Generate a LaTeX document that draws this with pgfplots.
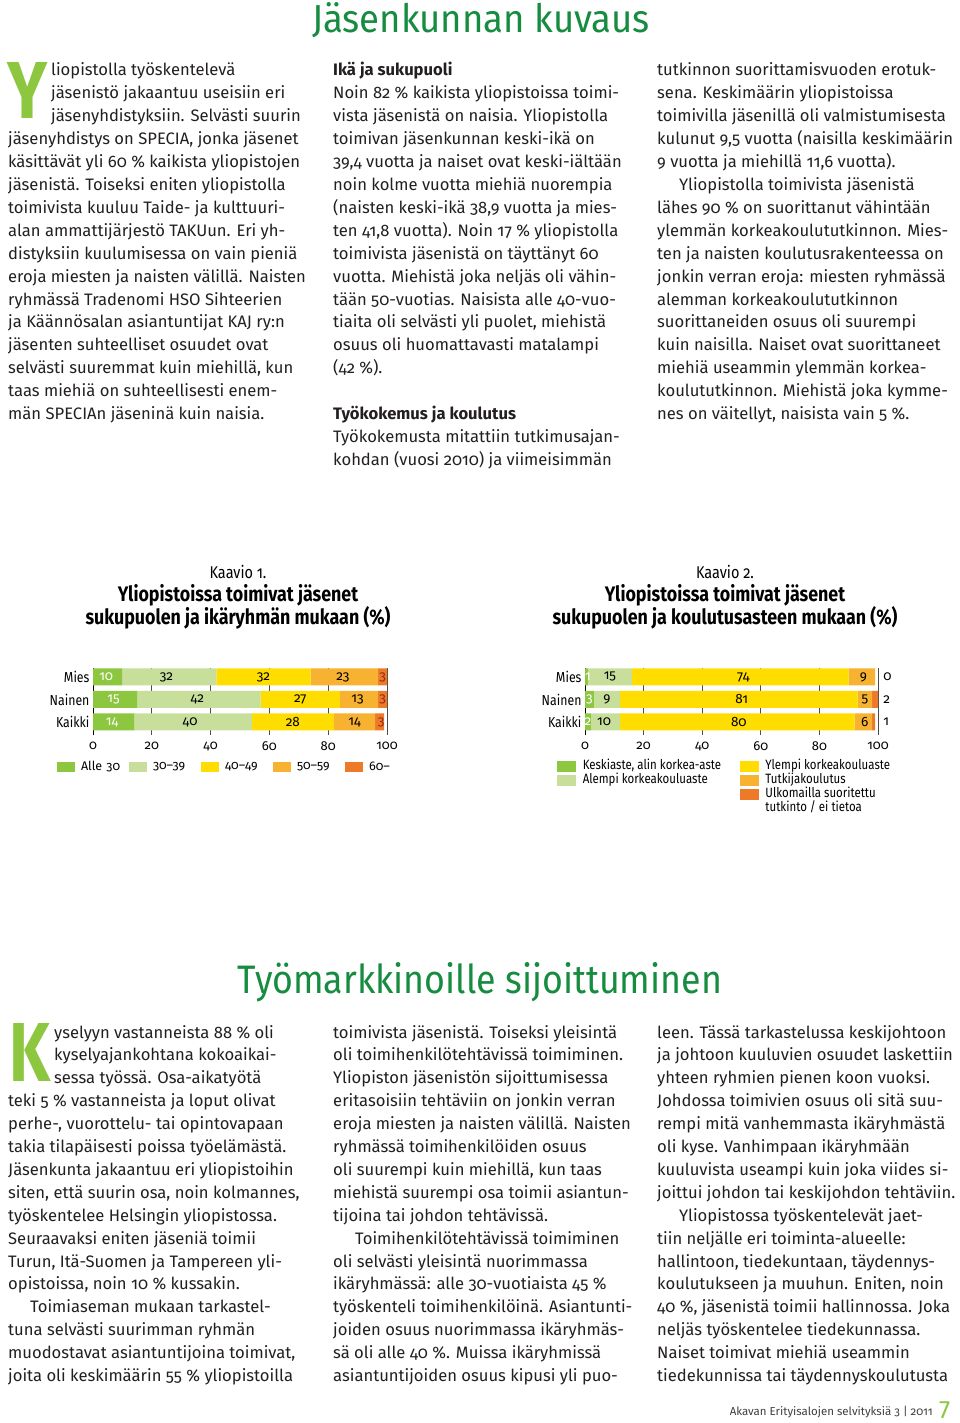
\documentclass[border=0pt]{standalone}
\usepackage{fontspec}
\usepackage{pgfplots}
\pgfplotsset{compat=1.18}
\setmainfont{Fira Sans}[Numbers=OldStyle]
\newfontfamily\cond{Fira Sans}[FakeStretch=0.85,Numbers=OldStyle]
\definecolor{cA}{RGB}{141,198,63}
\definecolor{cB}{RGB}{200,222,155}
\definecolor{cC}{RGB}{255,221,0}
\definecolor{cD}{RGB}{248,178,50}
\definecolor{cE}{RGB}{236,122,40}
\definecolor{hgreen}{RGB}{22,140,64}
\definecolor{lime}{RGB}{141,198,63}
\definecolor{dred}{RGB}{150,40,20}
\definecolor{txt}{RGB}{35,31,32}
\newcommand\bodyf{\fontsize{16.6}{22.9}\selectfont\color{txt}}
\newcommand\txtlines[3]{\foreach \l [count=\i from 0] in {#3} {\node[anchor=base west,inner sep=0pt,font=\bodyf] at (#1,{-(#2+\i*22.9)}) {\l};}}
\pgfplotsset{sq/.style={legend image code/.code={\fill[#1] (0pt,-5pt) rectangle (18pt,5pt);}}}
\begin{document}
\begin{tikzpicture}[x=1pt,y=1pt]
\fill[white] (0,0) rectangle (960,-1423);
\useasboundingbox (0,0) rectangle (960,-1423);
% headings
\node[anchor=base,inner sep=0pt] at (481,-33) {\resizebox{338pt}{30pt}{\textcolor{hgreen}{Jäsenkunnan kuvaus}}};
\node[anchor=base,inner sep=0pt] at (480,-993) {\resizebox{484pt}{31pt}{\textcolor{hgreen}{Työmarkkinoille sijoittuminen}}};
% drop caps
\node[anchor=south west,inner sep=0pt] at (7,-119) {\resizebox{40pt}{56pt}{\textcolor{lime}{\bfseries Y}}};
\node[anchor=south west,inner sep=0pt] at (9,-1082) {\resizebox{41pt}{58pt}{\textcolor{lime}{\bfseries K}}};
% upper columns
\txtlines{51}{76}{{liopistolla työskentelevä},{jäsenistö jakaantuu useisiin eri},{jäsenyhdistyksiin. Selvästi suurin}}
\txtlines{8}{144.7}{{jäsenyhdistys on SPECIA, jonka jäsenet},{käsittävät yli 60 \% kaikista yliopistojen},{jäsenistä. Toiseksi eniten yliopistolla},{toimivista kuuluu Taide- ja kulttuuri-},{alan ammattijärjestö TAKUun. Eri yh-},{distyksiin kuulumisessa on vain pieniä},{eroja miesten ja naisten välillä. Naisten},{ryhmässä Tradenomi HSO Sihteerien},{ja Käännösalan asiantuntijat KAJ ry:n},{jäsenten suhteelliset osuudet ovat},{selvästi suuremmat kuin miehillä, kun},{taas miehiä on suhteellisesti enem-},{män SPECIAn jäseninä kuin naisia.}}
\txtlines{333}{76}{{\textbf{Ikä ja sukupuoli}},{Noin 82 \% kaikista yliopistoissa toimi-},{vista jäsenistä on naisia. Yliopistolla},{toimivan jäsenkunnan keski-ikä on},{39,4 vuotta ja naiset ovat keski-iältään},{noin kolme vuotta miehiä nuorempia},{(naisten keski-ikä 38,9 vuotta ja mies-},{ten 41,8 vuotta). Noin 17 \% yliopistolla},{toimivista jäsenistä on täyttänyt 60},{vuotta. Miehistä joka neljäs oli vähin-},{tään 50-vuotias. Naisista alle 40-vuo-},{tiaita oli selvästi yli puolet, miehistä},{osuus oli huomattavasti matalampi},{(42 \%).},{},{\textbf{Työkokemus ja koulutus}},{Työkokemusta mitattiin tutkimusajan-},{kohdan (vuosi 2010) ja viimeisimmän}}
\txtlines{657}{76}{{tutkinnon suorittamisvuoden erotuk-},{sena.  Keskimäärin yliopistoissa},{toimivilla jäsenillä oli valmistumisesta},{kulunut 9,5 vuotta (naisilla keskimäärin},{9 vuotta ja miehillä 11,6 vuotta).},{\hspace*{22pt}Yliopistolla toimivista jäsenistä},{lähes 90 \% on suorittanut vähintään},{ylemmän korkeakoulututkinnon. Mies-},{ten ja naisten koulutusrakenteessa on},{jonkin verran eroja: miesten ryhmässä},{alemman korkeakoulututkinnon},{suorittaneiden osuus oli suurempi},{kuin naisilla. Naiset ovat suorittaneet},{miehiä useammin ylemmän korkea-},{koulututkinnon. Miehistä joka kymme-},{nes on väitellyt, naisista vain 5 \%.}}
% lower columns
\txtlines{54}{1038}{{yselyyn vastanneista 88 \% oli},{kyselyajankohtana kokoaikai-},{sessa työssä. Osa-aikatyötä}}
\txtlines{8}{1106.7}{{teki 5 \% vastanneista ja loput olivat},{perhe-, vuorottelu- tai opintovapaan},{takia tilapäisesti poissa työelämästä.},{Jäsenkunta jakaantuu eri yliopistoihin},{siten, että suurin osa, noin kolmannes,},{työskentelee Helsingin yliopistossa.},{Seuraavaksi eniten jäseniä toimii},{Turun, Itä-Suomen ja Tampereen yli-},{opistoissa, noin 10 \% kussakin.},{\hspace*{22pt}Toimiaseman mukaan tarkastel-},{tuna selvästi suurimman ryhmän},{muodostavat asiantuntijoina toimivat,},{joita oli keskimäärin 55 \% yliopistoilla}}
\txtlines{333}{1038}{{toimivista jäsenistä. Toiseksi yleisintä},{oli toimihenkilötehtävissä toimiminen.},{Yliopiston jäsenistön sijoittumisessa},{eritasoisiin tehtäviin on jonkin verran},{eroja miesten ja naisten välillä. Naisten},{ryhmässä toimihenkilöiden osuus},{oli suurempi kuin miehillä, kun taas},{miehistä suurempi osa toimii asiantun-},{tijoina tai johdon tehtävissä.},{\hspace*{22pt}Toimihenkilötehtävissä toimiminen},{oli selvästi yleisintä nuorimmassa},{ikäryhmässä: alle 30-vuotiaista 45 \%},{työskenteli toimihenkilöinä. Asiantunti-},{joiden osuus nuorimmassa ikäryhmäs-},{sä oli alle 40 \%. Muissa ikäryhmissä},{asiantuntijoiden osuus kipusi yli puo-}}
\txtlines{657}{1038}{{leen. Tässä tarkastelussa keskijohtoon},{ja johtoon kuuluvien osuudet laskettiin},{yhteen ryhmien pienen koon vuoksi.},{Johdossa toimivien osuus oli sitä suu-},{rempi mitä vanhemmasta ikäryhmästä},{oli kyse. Vanhimpaan ikäryhmään},{kuuluvista useampi kuin joka viides si-},{joittui johdon tai keskijohdon tehtäviin.},{\hspace*{22pt}Yliopistossa työskentelevät jaet-},{tiin neljälle eri toiminta-alueelle:},{hallintoon, tiedekuntaan, täydennys-},{koulutukseen ja muuhun. Eniten, noin},{40 \%, jäsenistä toimii hallinnossa. Joka},{neljäs työskentelee tiedekunnassa.},{Naiset toimivat miehiä useammin},{tiedekunnissa tai täydennyskoulutusta}}
% footer
\node[anchor=base east,inner sep=0pt,font=\fontsize{11.5}{11.5}\selectfont,text=black!75] at (933,-1415) {Akavan Erityisalojen selvityksiä 3 | 2011};
\node[anchor=base west,inner sep=0pt,font=\fontsize{25}{25}\selectfont\addfontfeature{Numbers=Lining},text=lime] at (939,-1418) {7};
% chart titles
\node[anchor=base,inner sep=0pt,font=\cond\fontsize{17}{17}\selectfont] at (238,-578) {Kaavio 1.};
\node[anchor=base,inner sep=0pt,font=\cond\bfseries\fontsize{21}{21}\selectfont] at (238,-601) {Yliopistoissa toimivat jäsenet};
\node[anchor=base,inner sep=0pt,font=\cond\bfseries\fontsize{21}{21}\selectfont] at (238,-624) {sukupuolen ja ikäryhmän mukaan (\%)};
\node[anchor=base,inner sep=0pt,font=\cond\fontsize{17}{17}\selectfont] at (725,-578) {Kaavio 2.};
\node[anchor=base,inner sep=0pt,font=\cond\bfseries\fontsize{21}{21}\selectfont] at (725,-601) {Yliopistoissa toimivat jäsenet};
\node[anchor=base,inner sep=0pt,font=\cond\bfseries\fontsize{21}{21}\selectfont] at (725,-624) {sukupuolen ja koulutusasteen mukaan (\%)};
% ---------- chart 1 ----------
\begin{axis}[at={(93pt,-735pt)},anchor=south west,x=2.94pt,y=22.5pt,
 xmin=0,xmax=100,ymin=-0.58,ymax=2.38,
 xbar stacked,bar width=17pt,
 axis x line*=bottom,axis y line*=left,
 x axis line style={draw=none},y axis line style={black,line width=0.9pt,-},
 xtick={0,20,40,60,80,100},ytick={0,1,2},yticklabels={Kaikki,Nainen,Mies},
 major tick length=0pt,xmajorgrids,major grid style={black!70,line width=0.7pt},
 /pgf/number format/assume math mode=true,
 xticklabel style={font=\fontsize{13}{13}\selectfont,yshift=-3pt},
 yticklabel style={font=\cond\fontsize{14.5}{14.5}\selectfont},
 legend columns=5,
 legend style={at={(axis description cs:-0.123,-0.36)},anchor=north west,draw=none,fill=none,inner sep=0pt,
   font=\fontsize{12.5}{12.5}\selectfont,/tikz/every even column/.append style={column sep=4pt},
   /tikz/every odd column/.append style={column sep=4pt},nodes={inner sep=2pt,text width=42pt,align=left}},
 legend cell align=left,
 clip=false]
\addplot[fill=cA,draw=none,sq=cA] coordinates {(10,2) (15,1) (14,0)};\addlegendentry{Alle 30}
\addplot[fill=cB,draw=none,sq=cB] coordinates {(32,2) (42,1) (40,0)};\addlegendentry{30–39}
\addplot[fill=cC,draw=none,sq=cC] coordinates {(32,2) (27,1) (28,0)};\addlegendentry{40–49}
\addplot[fill=cD,draw=none,sq=cD] coordinates {(23,2) (13,1) (14,0)};\addlegendentry{50–59}
\addplot[fill=cE,draw=none,sq=cE] coordinates {(3,2) (3,1) (3,0)};\addlegendentry{60–}
\end{axis}
\begin{axis}[at={(93pt,-735pt)},anchor=south west,x=2.94pt,y=22.5pt,
 xmin=0,xmax=100,ymin=-0.58,ymax=2.38,hide axis,clip=false,
 nodes near coords,point meta=explicit symbolic,
 every node near coord/.append style={anchor=center,inner sep=0pt,font=\fontsize{13.5}{13.5}\selectfont}]
\addplot[draw=none,forget plot,every node near coord/.append style={text=white}] table[meta=l,row sep=\\]{x y l\\ 4.5 2 10\\ 7 1 15\\ 6.5 0 14\\};
\addplot[draw=none,forget plot] table[meta=l,row sep=\\]{x y l\\ 25 2 32\\ 35.5 1 42\\ 33 0 40\\ 58 2 32\\ 70.5 1 27\\ 68 0 28\\ 85 2 23\\ 90 1 13\\ 89 0 14\\};
\addplot[draw=none,forget plot,every node near coord/.append style={text=dred}] table[meta=l,row sep=\\]{x y l\\ 98.5 2 3\\ 98.5 1 3\\ 98 0 3\\};
\end{axis}
% ---------- chart 2 ----------
\begin{axis}[at={(585pt,-735pt)},anchor=south west,x=2.93pt,y=22.5pt,
 xmin=0,xmax=100,ymin=-0.58,ymax=2.38,
 xbar stacked,bar width=17pt,
 axis x line*=bottom,axis y line*=left,
 x axis line style={draw=none},y axis line style={black,line width=0.9pt,-},
 xtick={0,20,40,60,80,100},ytick={0,1,2},yticklabels={Kaikki,Nainen,Mies},
 major tick length=0pt,xmajorgrids,major grid style={black!70,line width=0.7pt},
 /pgf/number format/assume math mode=true,
 xticklabel style={font=\fontsize{13}{13}\selectfont,yshift=-3pt},
 yticklabel style={font=\cond\fontsize{14.5}{14.5}\selectfont},
 clip=false]
\addplot[fill=cA,draw=none] coordinates {(1,2) (3,1) (2,0)};
\addplot[fill=cB,draw=none] coordinates {(15,2) (9,1) (10,0)};
\addplot[fill=cC,draw=none] coordinates {(74,2) (81,1) (80,0)};
\addplot[fill=cD,draw=none] coordinates {(9,2) (5,1) (6,0)};
\addplot[fill=cE,draw=none] coordinates {(0,2) (2,1) (1,0)};
\end{axis}
\begin{axis}[at={(585pt,-735pt)},anchor=south west,x=2.93pt,y=22.5pt,
 xmin=0,xmax=100,ymin=-0.58,ymax=2.38,hide axis,clip=false,
 nodes near coords,point meta=explicit symbolic,
 every node near coord/.append style={anchor=center,inner sep=0pt,font=\fontsize{13.5}{13.5}\selectfont},
 legend columns=2,
 legend style={at={(axis description cs:-0.095,-0.36)},anchor=north west,draw=none,fill=none,inner sep=0pt,
   font=\cond\fontsize{13.5}{13.5}\selectfont,/tikz/every even column/.append style={column sep=17pt},
   /tikz/every odd column/.append style={column sep=5pt},row sep=0pt,
   nodes={inner xsep=2pt,inner ysep=1pt,text height=9.5pt,text depth=2.5pt}},
 legend cell align=left]
\addlegendimage{sq=cA}\addlegendentry{Keskiaste, alin korkea-aste}
\addlegendimage{sq=cC}\addlegendentry{Ylempi korkeakouluaste}
\addlegendimage{sq=cB}\addlegendentry{Alempi korkeakouluaste}
\addlegendimage{sq=cD}\addlegendentry{Tutkijakoulutus}
\addlegendimage{empty legend}\addlegendentry{}
\addlegendimage{sq=cE}\addlegendentry{Ulkomailla suoritettu}
\addlegendimage{empty legend}\addlegendentry{}
\addlegendimage{empty legend}\addlegendentry{tutkinto / ei tietoa}
\addplot[draw=none,forget plot,every node near coord/.append style={text=white}] table[meta=l,row sep=\\]{x y l\\ 1 2 1\\ 1.5 1 3\\ 1 0 2\\};
\addplot[draw=none,forget plot] table[meta=l,row sep=\\]{x y l\\ 8.5 2 15\\ 7.5 1 9\\ 6.5 0 10\\ 54 2 74\\ 53.5 1 81\\ 52.5 0 80\\ 95 2 9\\ 95.5 1 5\\ 95.5 0 6\\};
\addplot[draw=none,forget plot,every node near coord/.append style={anchor=west}] table[meta=l,row sep=\\]{x y l\\ 101.8 2 0\\ 101.8 1 2\\ 101.8 0 1\\};
\end{axis}
\end{tikzpicture}
\end{document}
